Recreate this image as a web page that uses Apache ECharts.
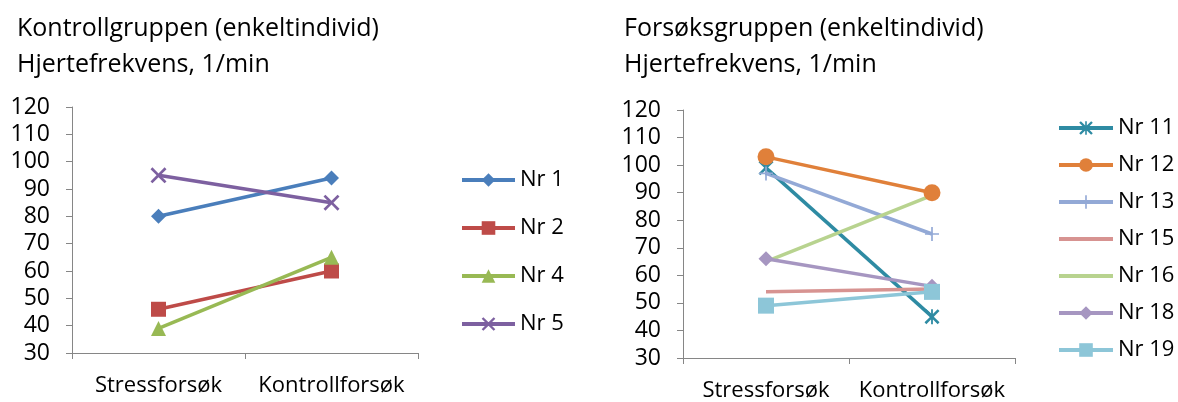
<!DOCTYPE html>
<html><head><meta charset="utf-8">
<script src="https://cdn.jsdelivr.net/npm/echarts@6/dist/echarts.min.js"></script>
<style>html,body{margin:0;padding:0;background:#fff;}#c{width:1178px;height:402px;}</style>
</head><body><div id="c"></div>
<script>
const categories = ['Stressforsøk', 'Kontrollforsøk'];
const yTicks = [30, 40, 50, 60, 70, 80, 90, 100, 110, 120];

const leftNames = ['Nr 1', 'Nr 2', 'Nr 4', 'Nr 5'];
const nr1 = [80, 94];
const nr2 = [46, 60];
const nr4 = [39, 65];
const nr5 = [95, 85];

const rightNames = ['Nr 11', 'Nr 12', 'Nr 13', 'Nr 15', 'Nr 16', 'Nr 18', 'Nr 19'];
const nr11 = [99, 45];
const nr12 = [103, 90];
const nr13 = [97, 75];
const nr15 = [54, 55];
const nr16 = [65, 89];
const nr18 = [66, 56];
const nr19 = [49, 54];

const FONT = 'Open Sans';
const X_PATH = 'path://M0,1.2 L1.2,0 L5,3.8 L8.8,0 L10,1.2 L6.2,5 L10,8.8 L8.8,10 L5,6.2 L1.2,10 L0,8.8 L3.8,5 Z';
const PLUS_PATH = 'path://M4.4,0 H5.6 V4.4 H10 V5.6 H5.6 V10 H4.4 V5.6 H0 V4.4 H4.4 Z';
const AST_PATH = 'path://M0,1.2 L1.2,0 L5,3.8 L8.8,0 L10,1.2 L6.2,5 L10,8.8 L8.8,10 L5,6.2 L1.2,10 L0,8.8 L3.8,5 Z M4.4,0 H5.6 V10 H4.4 Z';
const noMarker = ['Nr 15', 'Nr 16'];

function yAxis(gi) {
  return {
    type: 'value', gridIndex: gi, min: yTicks[0], max: yTicks[yTicks.length - 1], interval: 10,
    axisLine: {show: true, lineStyle: {color: '#868686', width: 1}},
    axisTick: {show: true, length: 6, lineStyle: {color: '#868686'}},
    splitLine: {show: false},
    axisLabel: {fontFamily: FONT, fontSize: 23, color: '#000', margin: 22}
  };
}
function xAxis(gi) {
  return {
    type: 'category', gridIndex: gi, data: categories, boundaryGap: true,
    axisLine: {show: true, lineStyle: {color: '#868686', width: 1}},
    axisTick: {show: true, length: 6, lineStyle: {color: '#868686'}},
    axisLabel: {fontFamily: FONT, fontSize: 22, color: '#000', margin: 22, interval: 0}
  };
}
function ser(name, data, gi, color, symbol, size) {
  return {
    name, type: 'line', data, xAxisIndex: gi, yAxisIndex: gi,
    symbol: symbol, symbolSize: size, showSymbol: symbol !== 'none',
    lineStyle: {color, width: 3.5}, itemStyle: {color},
    emphasis: {disabled: true}, animation: false
  };
}
function legendData(names) {
  return names.map(n => noMarker.includes(n) ? {name: n, itemStyle: {opacity: 0}} : {name: n});
}

const chart = echarts.init(document.getElementById('c'), null, {renderer: 'canvas'});
chart.setOption({
  animation: false,
  backgroundColor: '#fff',
  title: [
    {text: 'Kontrollgruppen (enkeltindivid)\nHjertefrekvens, 1/min', left: 12, top: 6,
     textStyle: {fontFamily: FONT, fontSize: 25, fontWeight: 'normal', color: '#000', lineHeight: 36}},
    {text: 'Forsøksgruppen (enkeltindivid)\nHjertefrekvens, 1/min', left: 619, top: 6,
     textStyle: {fontFamily: FONT, fontSize: 25, fontWeight: 'normal', color: '#000', lineHeight: 36}}
  ],
  grid: [
    {left: 72, top: 107, width: 346, height: 246},
    {left: 683, top: 110, width: 332, height: 248}
  ],
  xAxis: [xAxis(0), xAxis(1)],
  yAxis: [yAxis(0), yAxis(1)],
  legend: [
    {data: legendData(leftNames), orient: 'vertical', left: 455, top: 164, itemWidth: 53, itemHeight: 17, itemGap: 26,
     lineStyle: {width: 4}, textStyle: {fontFamily: FONT, fontSize: 22, color: '#000'}},
    {data: legendData(rightNames), orient: 'vertical', left: 1052, top: 112, itemWidth: 54, itemHeight: 17, itemGap: 15,
     lineStyle: {width: 4}, textStyle: {fontFamily: FONT, fontSize: 22, color: '#000'}}
  ],
  series: [
    ser('Nr 1', nr1, 0, '#4A7EBB', 'diamond', 15),
    ser('Nr 2', nr2, 0, '#BE4B48', 'rect', 15),
    ser('Nr 4', nr4, 0, '#98B954', 'triangle', 15),
    ser('Nr 5', nr5, 0, '#7D60A0', X_PATH, 16),
    ser('Nr 11', nr11, 1, '#2E8BA3', AST_PATH, 15),
    ser('Nr 12', nr12, 1, '#E0803A', 'circle', 17),
    ser('Nr 13', nr13, 1, '#93A9D6', PLUS_PATH, 14),
    ser('Nr 15', nr15, 1, '#D79391', 'none', 0),
    ser('Nr 16', nr16, 1, '#B8D38F', 'none', 0),
    ser('Nr 18', nr18, 1, '#A696C1', 'diamond', 15),
    ser('Nr 19', nr19, 1, '#8DC6D8', 'rect', 16)
  ]
});
</script></body></html>
